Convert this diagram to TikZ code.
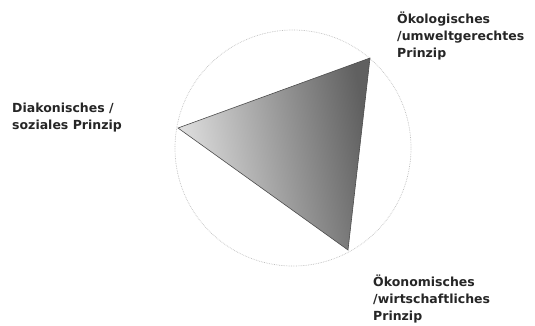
\documentclass[tikz,border=0pt]{standalone}
\usepackage{fontspec}
\setmainfont{DejaVu Sans}
\usetikzlibrary{positioning}

\begin{document}
\begin{tikzpicture}[
    x=1pt, y=1pt,
    every node/.style={align=left},
    principle/.style={anchor=north west, inner sep=0pt, font=\bfseries\fontsize{12.5}{17}\selectfont, text=black!85},
    ring/.style={gray!50, densely dotted, line width=0.7pt},
    edge/.style={gray!60!black, line width=0.6pt}
]
\useasboundingbox (0,0) rectangle (535,325);

% circle and corners
\coordinate (centre) at (293,177);
\coordinate (diakonie) at (178,197);
\coordinate (oekologie) at (370,267);
\coordinate (oekonomie) at (348,75);

\draw[ring] (centre) circle (118);

% shaded triangle
\shade[left color=gray!22, right color=gray!75!black, shading angle=100]
    (diakonie) -- (oekologie) -- (oekonomie) -- cycle;
\draw[edge] (diakonie) -- (oekologie) -- (oekonomie) -- cycle;

% labels
\node[principle] (diakonie_label) at (12,222) {Diakonisches /\\soziales Prinzip};
\node[principle] (oekologie_label) at (397,313) {Ökologisches\\/umweltgerechtes\\Prinzip};
\node[principle] (oekonomie_label) at (373,50) {Ökonomisches\\/wirtschaftliches\\Prinzip};

\end{tikzpicture}
\end{document}
